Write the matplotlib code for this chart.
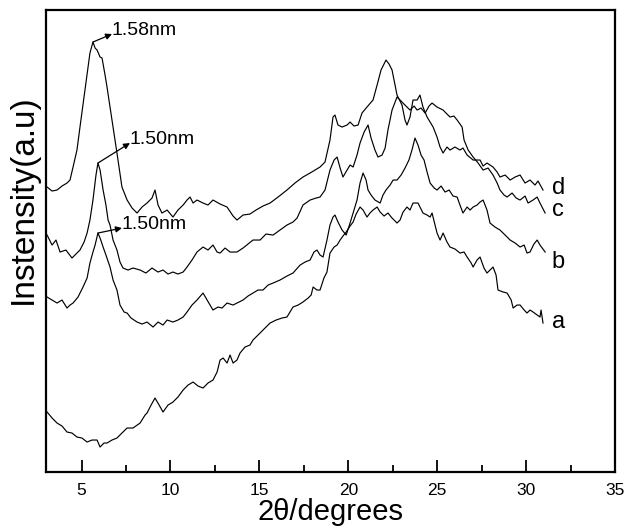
import numpy as np
import matplotlib
matplotlib.use("Agg")
import matplotlib.pyplot as plt
from matplotlib.ticker import MultipleLocator

plt.rcParams['font.family'] = ['Liberation Sans', 'DejaVu Sans']

# XRD patterns (2theta in degrees, intensity in a.u.)
theta_d = [3.06, 3.34, 3.62, 3.90, 4.18, 4.35, 4.52, 4.74, 4.91, 5.19, 5.47, 5.64, 5.76, 5.87, 6.04,
           6.15, 6.32, 6.43, 6.71, 6.99, 7.27, 7.56, 7.84, 8.12, 8.40, 8.68, 8.96, 9.13, 9.30, 9.52,
           9.81, 10.14, 10.42, 10.71, 10.93, 11.10, 11.27, 11.49, 11.83, 12.11, 12.39, 12.79, 13.18,
           13.52, 13.74, 14.08, 14.47, 14.81, 15.20, 15.60, 16.05, 16.55, 17.00, 17.45, 17.85, 18.41,
           18.69, 18.97, 19.14, 19.25, 19.42, 19.65, 19.93, 20.10, 20.32, 20.55, 20.77, 21.05, 21.39,
           21.62, 21.84, 22.12, 22.29, 22.46, 22.74, 23.02, 23.19, 23.30, 23.47, 23.64, 23.87, 24.03,
           24.20, 24.43, 24.77, 24.99, 25.16, 25.33, 25.55, 25.72, 26.00, 26.28, 26.45, 26.68, 27.02,
           27.41, 27.58, 27.80, 28.14, 28.37, 28.53, 28.82, 29.10, 29.38, 29.66, 29.94, 30.22, 30.50,
           30.67, 30.95]
inten_d = [285, 281, 282, 286, 289, 292, 305, 322, 345, 382, 419, 430, 424, 422, 415,
           414, 397, 385, 352, 319, 285, 272, 264, 259, 265, 269, 274, 282, 267, 259,
           262, 255, 262, 267, 272, 275, 269, 272, 269, 267, 272, 268, 265,
           256, 252, 257, 258, 262, 266, 269, 275, 282, 289, 295, 299, 305,
           310, 332, 355, 357, 347, 345, 347, 350, 346, 347, 359, 365, 372,
           387, 402, 412, 408, 402, 377, 367, 352, 347, 355, 372, 372, 377,
           365, 355, 345, 335, 325, 319, 325, 322, 325, 322, 324, 317, 312,
           312, 306, 309, 305, 300, 295, 297, 292, 295, 297, 289, 292, 287,
           291, 282]

theta_c = [3.06, 3.34, 3.56, 3.79, 4.12, 4.46, 4.74, 4.91, 5.14, 5.31, 5.47, 5.64, 5.81, 5.92, 6.04,
           6.21, 6.37, 6.49, 6.60, 6.77, 6.99, 7.16, 7.33, 7.61, 7.89, 8.29, 8.62, 8.96, 9.30, 9.58,
           9.86, 10.14, 10.42, 10.71, 10.93, 11.21, 11.49, 11.83, 12.11, 12.39, 12.62, 12.79, 13.07,
           13.35, 13.74, 14.08, 14.36, 14.64, 15.04, 15.37, 15.77, 16.16, 16.55, 16.89, 17.12, 17.45,
           17.85, 18.19, 18.41, 18.69, 18.97, 19.20, 19.37, 19.54, 19.70, 19.93, 20.10, 20.27, 20.49,
           20.66, 20.89, 21.11, 21.28, 21.50, 21.67, 21.90, 22.07, 22.23, 22.46, 22.74, 22.91, 23.13,
           23.47, 23.70, 23.87, 24.09, 24.32, 24.54, 24.71, 24.99, 25.33, 25.55, 25.72, 25.94, 26.12,
           26.40, 26.51, 26.74, 27.02, 27.30, 27.58, 27.86, 28.14, 28.37, 28.53, 28.76, 28.93, 29.21,
           29.44, 29.66, 29.94, 30.11, 30.39, 30.62, 30.78, 31.07]
inten_c = [237, 227, 232, 220, 222, 214, 219, 222, 230, 239, 252, 272, 297, 309, 302,
           282, 267, 252, 247, 232, 222, 210, 204, 202, 204, 202, 199, 204, 200, 202,
           198, 200, 198, 200, 205, 212, 220, 225, 222, 227, 220, 219, 224,
           220, 220, 224, 228, 232, 232, 238, 237, 242, 247, 250, 254, 267,
           272, 274, 275, 282, 302, 312, 315, 304, 295, 302, 307, 305, 317,
           329, 340, 347, 334, 322, 315, 317, 324, 342, 362, 375, 372, 368,
           362, 366, 362, 364, 359, 366, 369, 365, 362, 358, 355, 356, 352,
           345, 332, 322, 315, 309, 302, 304, 297, 289, 282, 277, 275, 279,
           274, 272, 276, 269, 272, 275, 269, 259]

theta_b = [3.06, 3.34, 3.62, 3.90, 4.18, 4.35, 4.52, 4.80, 5.08, 5.31, 5.47, 5.64, 5.76, 5.92, 6.04,
           6.21, 6.37, 6.60, 6.77, 6.99, 7.16, 7.39, 7.56, 7.78, 8.12, 8.40, 8.68, 9.02, 9.30, 9.58,
           9.81, 10.14, 10.42, 10.71, 10.93, 11.21, 11.49, 11.83, 12.06, 12.39, 12.67, 12.90, 13.18,
           13.52, 13.74, 14.08, 14.36, 14.64, 14.92, 15.20, 15.49, 15.77, 16.16, 16.55, 16.89, 17.29,
           17.57, 17.85, 18.07, 18.24, 18.41, 18.58, 18.80, 18.97, 19.14, 19.25, 19.42, 19.65, 19.88,
           20.10, 20.32, 20.49, 20.66, 20.83, 21.00, 21.11, 21.28, 21.50, 21.79, 21.95, 22.12, 22.35,
           22.52, 22.74, 22.97, 23.19, 23.41, 23.58, 23.75, 23.92, 24.09, 24.26, 24.43, 24.60, 24.83,
           24.99, 25.22, 25.44, 25.67, 25.89, 26.12, 26.28, 26.45, 26.68, 26.85, 27.02, 27.24, 27.41,
           27.58, 27.80, 27.97, 28.25, 28.53, 28.82, 29.10, 29.38, 29.66, 29.89, 30.05, 30.22, 30.44,
           30.62, 30.78, 31.07]
inten_b = [175, 172, 169, 172, 164, 167, 169, 175, 185, 194, 209, 220, 227, 239, 234,
           225, 217, 205, 192, 182, 167, 160, 159, 154, 150, 148, 150, 145, 150, 147,
           152, 150, 152, 155, 160, 167, 172, 179, 172, 162, 165, 164, 169,
           167, 169, 172, 176, 179, 182, 182, 187, 189, 192, 196, 199, 207,
           210, 212, 220, 222, 217, 215, 232, 247, 255, 257, 250, 242, 237,
           249, 262, 272, 289, 299, 292, 282, 277, 272, 269, 277, 282, 287,
           292, 292, 297, 304, 312, 322, 334, 327, 317, 312, 300, 289, 284,
           282, 286, 280, 282, 276, 275, 267, 259, 265, 262, 265, 267, 270,
           272, 262, 249, 245, 242, 237, 232, 229, 225, 227, 219, 220, 228,
           232, 227, 220]

theta_a = [3.06, 3.34, 3.62, 3.90, 4.18, 4.46, 4.74, 5.02, 5.31, 5.59, 5.87, 6.04, 6.26, 6.43, 6.71,
           6.99, 7.27, 7.56, 7.89, 8.29, 8.57, 8.68, 8.91, 9.13, 9.36, 9.58, 9.86, 10.14, 10.42, 10.71,
           10.99, 11.27, 11.55, 11.83, 12.11, 12.39, 12.62, 12.79, 12.96, 13.18, 13.35, 13.52, 13.74,
           13.91, 14.19, 14.47, 14.64, 14.92, 15.20, 15.60, 15.94, 16.27, 16.55, 16.89, 17.18, 17.45,
           17.74, 17.91, 18.02, 18.24, 18.41, 18.63, 18.80, 18.97, 19.20, 19.37, 19.54, 19.70, 19.88,
           20.10, 20.27, 20.44, 20.66, 20.83, 21.05, 21.22, 21.39, 21.62, 21.79, 22.01, 22.23, 22.46,
           22.74, 22.91, 23.08, 23.30, 23.47, 23.64, 23.92, 24.03, 24.20, 24.43, 24.60, 24.71, 24.88,
           24.99, 25.16, 25.33, 25.55, 25.72, 26.00, 26.28, 26.51, 26.68, 26.91, 27.02, 27.24, 27.41,
           27.63, 27.80, 27.97, 28.14, 28.31, 28.42, 28.71, 28.93, 29.16, 29.27, 29.49, 29.66, 29.89,
           30.05, 30.22, 30.39, 30.62, 30.78, 30.84, 30.95]
inten_a = [60, 54, 49, 46, 40, 39, 35, 34, 30, 32, 32, 25, 29, 29, 32,
           34, 39, 44, 44, 49, 57, 59, 67, 74, 67, 60, 67, 70, 75, 82,
           87, 90, 86, 84, 89, 92, 100, 112, 114, 109, 117, 109, 112,
           119, 125, 127, 132, 137, 142, 149, 152, 154, 155, 165, 167, 170,
           174, 177, 185, 182, 182, 194, 200, 219, 225, 227, 232, 236, 240,
           246, 250, 258, 265, 262, 255, 259, 262, 265, 260, 256, 259, 254,
           249, 252, 260, 265, 262, 269, 269, 265, 259, 257, 255, 259, 247,
           239, 232, 239, 230, 225, 223, 219, 220, 215, 209, 205, 212, 215,
           204, 199, 202, 205, 197, 182, 180, 179, 172, 164, 167, 167, 162,
           159, 162, 160, 157, 155, 162, 149]

curve_names = ['a', 'b', 'c', 'd']
name_pos = [150, 210, 262, 284]          # label heights at the right end

# d-spacing annotations: text, peak (x, y), arrow head (x, y)
annot_text = ['1.58nm', '1.50nm', '1.50nm']
annot_peak = [(5.64, 430), (5.92, 309), (5.92, 239)]
annot_head = [(6.71, 438), (7.72, 329), (7.27, 244)]

fig = plt.figure(figsize=(6.27, 5.28), dpi=100)
ax = fig.add_axes([0.0734, 0.106, 0.9075, 0.875])

for th, it in [(theta_a, inten_a), (theta_b, inten_b), (theta_c, inten_c), (theta_d, inten_d)]:
    ax.plot(th, it, color='black', lw=0.85)

for name, yp in zip(curve_names, name_pos):
    ax.text(31.45, yp, name, fontsize=17, va='center', ha='left')

for txt, pk, hd in zip(annot_text, annot_peak, annot_head):
    ax.annotate('', xy=hd, xytext=pk,
                arrowprops=dict(arrowstyle='-|>', color='black', lw=0.9,
                                shrinkA=0, shrinkB=0, mutation_scale=9))
    ax.text(hd[0] - 0.05, hd[1] + 4, txt, fontsize=14, va='center', ha='left')

ax.set_xlim(3, 35)
ax.set_ylim(0, 462)
ax.xaxis.set_major_locator(MultipleLocator(5))
ax.xaxis.set_minor_locator(MultipleLocator(2.5))
ax.tick_params(axis='x', which='major', direction='in', length=9, width=1.3,
               labelsize=12.5, pad=8)
ax.tick_params(axis='x', which='minor', direction='in', length=5, width=1.3)
ax.set_yticks([])
for sp in ax.spines.values():
    sp.set_linewidth(1.6)

ax.set_xlabel('2θ/degrees', fontsize=21, labelpad=0)
ax.set_ylabel('Instensity(a.u)', fontsize=24)
ax.yaxis.set_label_coords(-0.012, 0.59)

fig.savefig('out.png', dpi=100)
